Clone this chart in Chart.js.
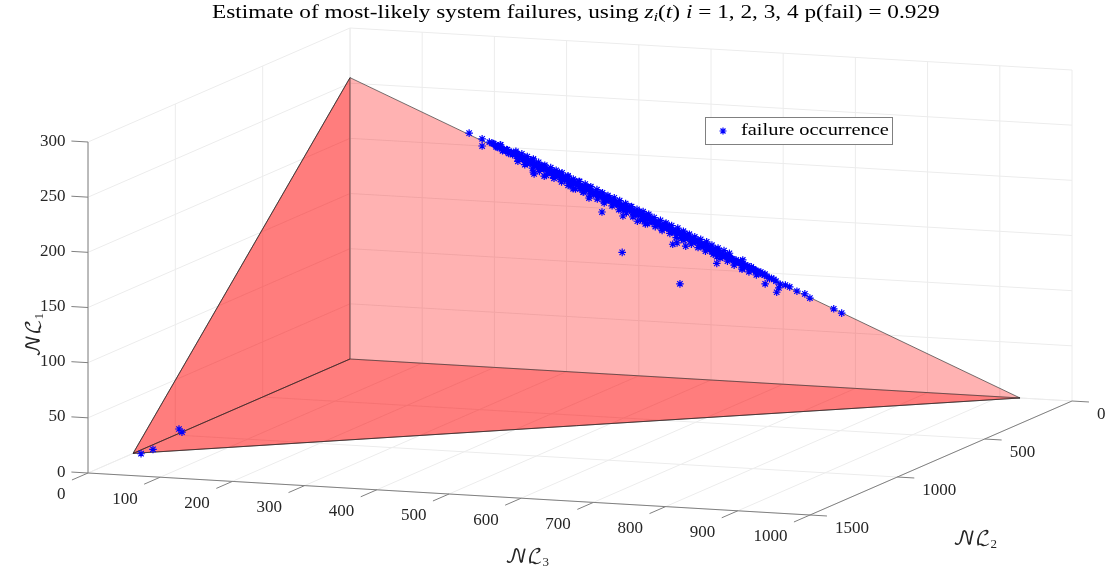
<!DOCTYPE html>
<html>
<head>
<meta charset="utf-8">
<script src="https://cdn.jsdelivr.net/npm/chart.js@4"></script>
<style>
  html, body { margin: 0; background: #fff; }
  canvas { display: block; }
</style>
</head>
<body>
<canvas id="chart" width="1118" height="571"></canvas>
<script>
// tick labels
const nl3Ticks = [0, 100, 200, 300, 400, 500, 600, 700, 800, 900, 1000];
const nl2Ticks = [0, 500, 1000, 1500];
const nl1Ticks = [0, 50, 100, 150, 200, 250, 300];

// corners of the red tetrahedron: origin, NL3 end, NL2 end, NL1 end
const solidNL3 = [0, 928, 0, 0];
const solidNL2 = [0, 0, 1242, 0];
const solidNL1 = [0, 0, 0, 255];

// failure points
const failNL3 = [
  197, 200, 203, 206, 209, 212, 215, 218, 221, 224, 227, 230, 233, 236, 239, 242, 245, 248, 251, 254,
  257, 260, 263, 266, 269, 272, 275, 278, 281, 284, 287, 290, 293, 296, 299, 302, 305, 308, 311, 314,
  317, 320, 323, 326, 329, 332, 335, 338, 341, 344, 347, 350, 353, 356, 359, 362, 365, 368, 371, 374,
  377, 380, 383, 386, 389, 392, 395, 398, 401, 404, 407, 410, 413, 416, 419, 422, 425, 428, 431, 434,
  437, 440, 443, 446, 449, 452, 455, 458, 461, 464, 467, 470, 473, 476, 479, 482, 485, 488, 491, 494,
  497, 500, 503, 506, 509, 512, 515, 518, 521, 524, 527, 530, 533, 536, 539, 542, 545, 548, 551, 554,
  557, 560, 563, 566, 569, 572, 575, 578, 581, 584, 587, 590,
  165, 183, 183, 193, 208, 254, 255, 269, 309, 331, 349, 377, 378, 398, 409, 457, 447, 453, 465, 508,
  508, 543, 544, 575, 591, 594, 596, 603, 609, 619, 630, 637, 670, 681,
  0, 0, 30, 20
];
const failNL1 = [
  203, 203, 200, 200, 202, 197, 198, 198, 195, 196, 195, 196, 191, 193, 190, 192.5, 190, 187, 189, 190,
  185.5, 186.5, 183, 186, 183, 185, 180.5, 181.5, 177, 181, 178, 180, 174.5, 176.5, 174, 177, 173, 169.5, 173.5, 170.5,
  173, 167, 169, 164.5, 168.5, 166, 168, 162, 164, 161.5, 164.5, 161, 157, 161, 158, 160.5, 154.5, 157, 154, 157,
  153.5, 149.5, 154, 151, 153, 147.5, 149.5, 146.5, 149, 146, 142, 146.5, 143.5, 145.5, 140, 142, 139, 141.5, 138.5, 135,
  139, 136, 138, 132.5, 134.5, 132, 134, 131, 127.5, 131.5, 128.5, 130, 125, 127, 124.5, 126.5, 123.5, 121, 123, 120,
  122, 119.5, 117, 119, 116, 118, 115.5, 112.5, 115, 112, 113, 111, 108.5, 110.5, 108, 109, 107, 104.5, 105.5, 104,
  105, 102, 102, 99.5, 100.5, 99, 99, 97, 95, 95.5, 94.5, 93,
  211, 206.5, 200, 204, 202, 179, 177.5, 176, 166, 158.5, 146.5, 111, 144, 140, 138, 85.5, 121, 122.5, 120, 106,
  112, 102, 110.5, 90, 83, 87, 90.5, 90, 88.5, 85, 83, 79.5, 71, 67.5,
  4, 0, 5.5, 3
];
const failNL2 = [
  0, 4, 2, 6, 1, 3, 7, 0, 5, 2, 8, 1, 4, 6, 0, 3, 5, 9, 2, 1,
  7, 4, 0, 6, 3, 8, 1, 5, 2, 4, 9, 0, 6, 3, 7, 1, 4, 8, 2, 5,
  0, 6, 3, 9, 1, 4, 7, 2, 5, 0, 8, 3, 6, 1, 4, 9, 2, 5, 0, 7,
  3, 6, 1, 8, 4, 2, 5, 9, 0, 3, 7, 1, 6, 4, 2, 8, 0, 5, 3, 9,
  1, 6, 4, 2, 7, 0, 5, 3, 8, 1, 4, 6, 2, 9, 0, 5, 3, 7, 1, 4,
  6, 2, 8, 0, 5, 3, 1, 7, 4, 2, 6, 0, 3, 5, 1, 4, 2, 6, 0, 3,
  5, 1, 4, 2, 0, 3, 1, 2, 0, 1, 0, 0,
  0, 0, 0, 0, 0, 0, 0, 0, 0, 0, 0, 0, 0, 0, 0, 0, 0, 0, 0, 0,
  0, 0, 0, 0, 0, 0, 0, 0, 0, 0, 0, 0, 0, 0,
  979, 962, 1252, 1279
];

// the dense middle of the band
const coreNL3 = [
  199, 202, 205, 208, 211, 214, 217, 220, 223, 226, 229, 232, 235, 238, 241, 244, 247, 250, 253, 256,
  259, 262, 265, 268, 271, 274, 277, 280, 283, 286, 289, 292, 295, 298, 301, 304, 307, 310, 313, 316,
  319, 322, 325, 328, 331, 334, 337, 340, 343, 346, 349, 352, 355, 358, 361, 364, 367, 370, 373, 376,
  379, 382, 385, 388, 391, 394, 397, 400, 403, 406, 409, 412, 415, 418, 421, 424, 427, 430, 433, 436,
  439, 442, 445, 448, 451, 454, 457, 460, 463, 466, 469, 472, 475, 478, 481, 484, 487, 490, 493, 496,
  499, 502, 505, 508, 511, 514, 517, 520, 523, 526, 529, 532, 535, 538, 541, 544, 547, 550, 553, 556,
  559, 562, 565, 568, 571, 574
];
const coreNL1 = [
  203, 201, 201, 200, 199, 198, 198, 196, 196, 194, 195, 193, 193, 191, 191, 189, 190, 188, 188, 186,
  186, 184, 185, 183, 183, 181, 181, 179, 180, 178, 178, 176, 176, 175, 174, 173, 173, 171, 172, 170,
  169, 168, 168, 166, 167, 165, 164, 163, 163, 161, 162, 160, 159, 158, 158, 156, 157, 155, 154, 153,
  153, 151, 152, 150, 149, 148, 148, 146, 147, 145, 144, 143, 143, 141, 142, 140, 139, 138, 138, 136,
  137, 135, 134, 133, 133, 131, 132, 130, 129, 128, 128, 126, 127, 125, 124, 123, 123, 121, 121, 120,
  119, 118, 118, 116, 116, 115, 114, 113, 113, 111, 111, 110, 109, 108, 108, 106, 106, 105, 104, 103,
  103, 101, 101, 100, 99, 98
];
const coreNL2 = [
  2, 0, 3, 1, 4, 2, 0, 5, 1, 3, 2, 4, 0, 1, 5, 3, 2, 0, 4, 1,
  3, 5, 0, 2, 4, 1, 3, 0, 5, 2, 1, 4, 3, 0, 2, 5, 1, 3, 4, 0,
  2, 1, 5, 3, 0, 4, 2, 1, 3, 5, 0, 2, 4, 1, 3, 0, 5, 2, 1, 4,
  0, 3, 2, 5, 1, 4, 0, 3, 2, 1, 5, 4, 0, 2, 3, 1, 5, 0, 4, 2,
  3, 1, 0, 5, 2, 4, 1, 3, 0, 2, 5, 1, 4, 3, 0, 2, 1, 3, 4, 0,
  5, 2, 1, 3, 0, 4, 2, 1, 3, 0, 2, 4, 1, 0, 3, 2, 1, 0, 2, 3,
  1, 0, 2, 1, 0, 1
];

// points along the upper and lower rim of the band
const rimNL3 = [
  230, 238, 246, 254, 262, 270, 278, 286, 294, 302, 310, 318, 326, 334, 342, 350, 358, 366, 374, 382,
  390, 398, 406, 414, 422, 430, 438, 446, 454, 462, 470, 478, 486, 494, 502, 510, 518, 526,
  234, 244, 254, 264, 274, 284, 294, 304, 314, 324, 334, 344, 354, 364, 374, 384, 394, 404, 414, 424,
  434, 444, 454, 464, 474, 484, 494, 504, 514, 524, 534, 544, 554, 564
];
const rimNL1 = [
  197, 195, 193, 191, 188.5, 186, 184, 182, 180, 177.5, 175, 173, 171, 169, 166.5, 164, 162, 160, 158, 155.5,
  153, 151, 149, 147, 144.5, 142, 140, 138, 136, 133.5, 131, 129, 127, 125, 122.5, 120, 118, 116,
  188.5, 186, 183, 180.5, 177.5, 175, 172, 169.5, 166.5, 164, 161, 158.5, 155.5, 153, 150, 147.5, 144.5, 142, 139, 136.5,
  133.5, 131, 128, 125.5, 122.5, 120, 117, 114.5, 111.5, 109, 106, 103.5, 100.5, 98
];
const rimNL2 = [
  1, 0, 2, 0, 3, 1, 0, 2, 1, 0, 3, 0, 1, 2, 0, 1, 3, 0, 2, 1,
  0, 2, 0, 1, 3, 0, 1, 2, 0, 1, 0, 2, 1, 0, 3, 1, 0, 2,
  6, 8, 5, 7, 9, 6, 4, 8, 7, 5, 9, 6, 8, 4, 7, 5, 9, 6, 8, 5,
  7, 4, 9, 6, 5, 8, 7, 4, 6, 5, 8, 4, 6, 5
];

// view of the 3D box on the page
const BOX = { x0: 88, y0: 473, nl3X: 0.722, nl3Y: 0.042, nl2X: 262 / 1500, nl2Y: 114 / 1500, nl1Y: 331 / 300 };
const SERIF = '"Liberation Serif", serif';
const GRID = '#ececec';
const AXIS = '#808080';

function project(nl3, nl2, nl1) {
  const back = 1500 - nl2;
  return {
    x: BOX.x0 + BOX.nl3X * nl3 + BOX.nl2X * back,
    y: BOX.y0 + BOX.nl3Y * nl3 - BOX.nl2Y * back - BOX.nl1Y * nl1,
  };
}

// segments as one dataset, null breaks the line
function segments(list) {
  const out = [];
  list.forEach(([a, b]) => {
    out.push(project(...a), project(...b), { x: null, y: null });
  });
  return out;
}

const gridSegs = [];
nl3Ticks.forEach(t => {
  gridSegs.push([[t, 0, 0], [t, 1500, 0]], [[t, 0, 0], [t, 0, 300]]);
});
nl2Ticks.forEach(t => {
  gridSegs.push([[0, t, 0], [1000, t, 0]], [[0, t, 0], [0, t, 300]]);
});
nl1Ticks.forEach(t => {
  gridSegs.push([[0, 0, t], [1000, 0, t]], [[0, 0, t], [0, 1500, t]]);
});

const axisSegs = [
  [[0, 1500, 0], [1000, 1500, 0]],
  [[1000, 1500, 0], [1000, 0, 0]],
  [[0, 1500, 0], [0, 1500, 300]],
];
nl3Ticks.forEach(t => axisSegs.push([[t, 1500, 0], [t, 1592, 0]]));
nl2Ticks.forEach(t => axisSegs.push([[1000, t, 0], [1023.5, t, 0]]));
nl1Ticks.forEach(t => axisSegs.push([[0, 1500, t], [-23, 1500, t]]));

// runs of text, sx widens the letters towards the look of the original font
function textRuns(ctx, x, y, runs, sx = 1) {
  ctx.textAlign = 'left';
  ctx.textBaseline = 'alphabetic';
  runs.forEach(([str, font, dy]) => {
    ctx.font = font;
    ctx.save();
    ctx.translate(x, y + (dy || 0));
    ctx.scale(sx, 1);
    ctx.fillText(str, 0, 0);
    ctx.restore();
    x += ctx.measureText(str).width * sx;
  });
}

function drawSolid(chart) {
  const { ctx, scales } = chart;
  const pts = solidNL3.map((v, i) => {
    const p = project(v, solidNL2[i], solidNL1[i]);
    return { x: scales.x.getPixelForValue(p.x), y: scales.y.getPixelForValue(p.y) };
  });
  const poly = idx => {
    ctx.beginPath();
    idx.forEach((n, i) => (i ? ctx.lineTo(pts[n].x, pts[n].y) : ctx.moveTo(pts[n].x, pts[n].y)));
    ctx.closePath();
  };
  ctx.save();
  ctx.fillStyle = 'rgba(255,0,0,0.3)';
  ctx.strokeStyle = 'rgba(40,40,40,0.8)';
  ctx.lineWidth = 0.8;
  [[2, 3, 1], [0, 2, 3], [0, 2, 1]].forEach(face => {
    poly(face);
    ctx.fill();
    ctx.stroke();
  });
  ctx.restore();
}

const solidPlugin = {
  id: 'solid',
  beforeDatasetDraw(chart, args) {
    if (args.index === 0) drawSolid(chart);
  },
};

const textPlugin = {
  id: 'labels',
  afterDraw(chart) {
    const { ctx, scales } = chart;
    const px = p => ({ x: scales.x.getPixelForValue(p.x), y: scales.y.getPixelForValue(p.y) });
    ctx.save();
    ctx.fillStyle = '#262626';

    // tick labels
    ctx.font = `17px ${SERIF}`;
    ctx.textBaseline = 'middle';
    ctx.textAlign = 'right';
    nl3Ticks.forEach(t => {
      const p = px(project(t, 1592, 0));
      ctx.fillText(t, p.x - 6.5, p.y + 15);
    });
    nl1Ticks.forEach(t => {
      const p = px(project(-23, 1500, t));
      ctx.fillText(t, p.x - 6, p.y);
    });
    ctx.textAlign = 'left';
    nl2Ticks.forEach(t => {
      const p = px(project(1023.5, t, 0));
      ctx.fillText(t, p.x + 8, p.y + 12.5);
    });

    // axis titles
    const cal = `20px "DejaVu Math TeX Gyre", "DejaVu Serif", ${SERIF}`;
    const sub = `13px ${SERIF}`;
    textRuns(ctx, 505, 563, [['𝒩ℒ', cal], ['3', sub, 3]]);
    textRuns(ctx, 953, 545, [['𝒩ℒ', cal], ['2', sub, 3]]);
    ctx.save();
    ctx.translate(40, 357);
    ctx.rotate(-Math.PI / 2);
    textRuns(ctx, 0, 0, [['𝒩ℒ', cal], ['1', sub, 3]]);
    ctx.restore();

    // title
    ctx.fillStyle = '#000';
    const rm = `19px ${SERIF}`;
    const it = `italic 19px ${SERIF}`;
    textRuns(ctx, 212, 18, [
      ['Estimate of most-likely system failures, using ', rm],
      ['z', it], ['i', `italic 13.5px ${SERIF}`, 3], ['(', rm], ['t', it], [') ', rm],
      ['i', it], [' = 1, 2, 3, 4 p(fail) = 0.929', rm],
    ], 1.225);

    // legend
    ctx.fillStyle = '#fff';
    ctx.strokeStyle = '#808080';
    ctx.lineWidth = 1;
    ctx.fillRect(705.5, 117.5, 187, 27);
    ctx.strokeRect(705.5, 117.5, 187, 27);
    ctx.strokeStyle = '#0000ff';
    ctx.lineWidth = 1.2;
    ctx.beginPath();
    [[3.5, 0], [0, 3.5], [2.5, 2.5], [2.5, -2.5]].forEach(([dx, dy]) => {
      ctx.moveTo(723 - dx, 131 - dy);
      ctx.lineTo(723 + dx, 131 + dy);
    });
    ctx.stroke();
    ctx.fillStyle = '#000';
    textRuns(ctx, 741, 135, [['failure occurrence', `17px ${SERIF}`]], 1.2);
    ctx.restore();
  },
};

const lineDefaults = { showLine: true, pointRadius: 0, spanGaps: false, fill: false };
const toPoints = (a, b, c) => a.map((v, i) => project(v, b[i], c[i]));

new Chart(document.getElementById('chart'), {
  type: 'scatter',
  data: {
    datasets: [
      {
        label: 'failure occurrence',
        data: [
          ...toPoints(failNL3, failNL2, failNL1),
          ...toPoints(coreNL3, coreNL2, coreNL1),
          ...toPoints(rimNL3, rimNL2, rimNL1),
        ],
        pointStyle: 'star',
        pointRadius: 3.8,
        borderColor: '#0000ff',
        backgroundColor: '#0000ff',
        borderWidth: 1.2,
        showLine: false,
      },
      { label: 'axes', data: segments(axisSegs), borderColor: AXIS, borderWidth: 1, ...lineDefaults },
      { label: 'grid', data: segments(gridSegs), borderColor: GRID, borderWidth: 1, ...lineDefaults },
    ],
  },
  options: {
    responsive: false,
    animation: false,
    events: [],
    layout: { padding: 0, autoPadding: false },
    plugins: { legend: { display: false }, title: { display: false }, tooltip: { enabled: false } },
    scales: {
      x: { type: 'linear', min: 0, max: 1118, display: false },
      y: { type: 'linear', min: 0, max: 571, reverse: true, display: false },
    },
  },
  plugins: [solidPlugin, textPlugin],
});
</script>
</body>
</html>
